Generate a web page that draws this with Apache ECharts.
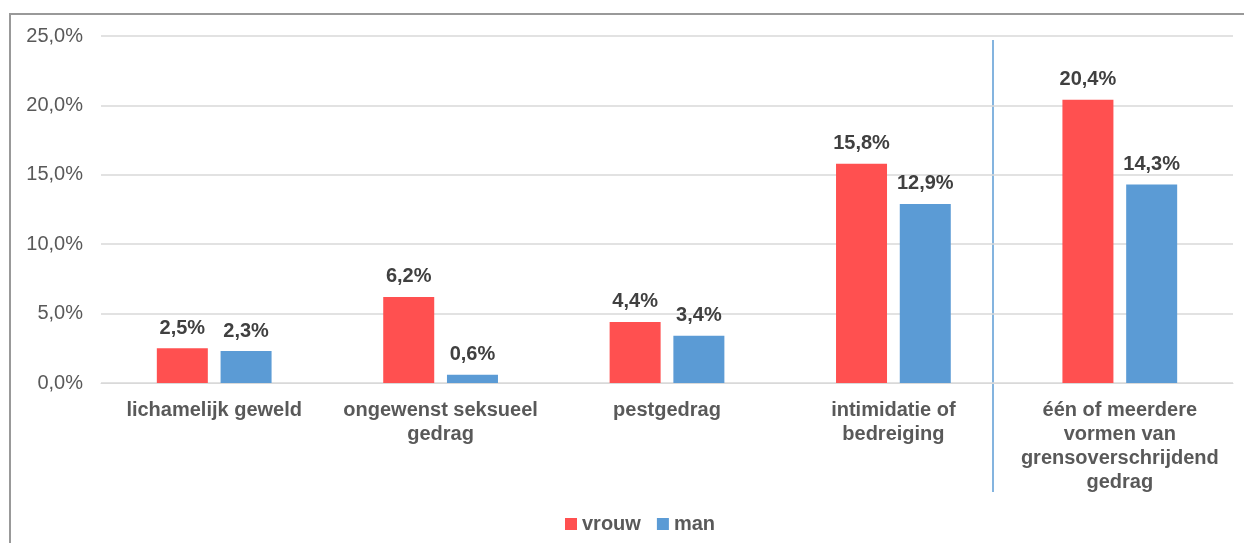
<!DOCTYPE html>
<html>
<head>
<meta charset="utf-8">
<script src="https://cdn.jsdelivr.net/npm/echarts@6/dist/echarts.min.js"></script>
<style>
  html, body { margin: 0; padding: 0; background: #fff; }
  #chart { width: 1244px; height: 543px; }
</style>
</head>
<body>
<div id="chart"></div>
<script>
// categorieën (tick labels, met regeleinden zoals in het origineel)
const categories = [
    'lichamelijk geweld',
    'ongewenst seksueel\ngedrag',
    'pestgedrag',
    'intimidatie of\nbedreiging',
    'één of meerdere\nvormen van\ngrensoverschrijdend\ngedrag'
];
const vrouw = [2.5, 6.2, 4.4, 15.8, 20.4];
const man = [2.3, 0.6, 3.4, 12.9, 14.3];
const yTicks = [0, 5, 10, 15, 20, 25];

const pct = v => v.toFixed(1).replace('.', ',') + '%';

const chart = echarts.init(document.getElementById('chart'));

const labelStyle = {
    show: true,
    position: 'top',
    distance: 10,
    formatter: p => pct(p.value),
    color: '#404040',
    fontWeight: 'bold',
    fontSize: 20,
    fontFamily: 'Liberation Sans, Arial, sans-serif'
};

chart.setOption({
    animation: false,
    textStyle: { fontFamily: 'Liberation Sans, Arial, sans-serif' },
    grid: { left: 101, right: 11, top: 36, bottom: 160 },
    legend: {
        bottom: 4,
        left: 560,
        icon: 'rect',
        itemWidth: 12,
        itemHeight: 12,
        itemGap: 16,
        textStyle: { color: '#595959', fontSize: 20, fontWeight: 'bold' },
        data: ['vrouw', 'man']
    },
    xAxis: {
        type: 'category',
        data: categories,
        axisLine: { lineStyle: { color: '#D9D9D9', width: 1 } },
        axisTick: { show: false },
        axisLabel: {
            color: '#595959',
            fontSize: 20,
            fontWeight: 'bold',
            lineHeight: 24,
            margin: 15,
            interval: 0
        }
    },
    yAxis: {
        type: 'value',
        min: yTicks[0],
        max: yTicks[yTicks.length - 1],
        interval: 5,
        axisLine: { show: false },
        axisTick: { show: false },
        splitLine: { lineStyle: { color: '#D9D9D9', width: 1.5 } },
        axisLabel: {
            color: '#595959',
            fontSize: 20,
            margin: 18,
            formatter: v => pct(v)
        }
    },
    series: [
        {
            name: 'vrouw',
            type: 'bar',
            data: vrouw,
            barWidth: 51,
            barGap: '25%',
            itemStyle: { color: '#FF5050' },
            label: labelStyle
        },
        {
            name: 'man',
            type: 'bar',
            data: man,
            barWidth: 51,
            itemStyle: { color: '#5B9BD5' },
            label: labelStyle
        }
    ],
    graphic: [
        // kader rond de grafiek
        {
            type: 'rect',
            shape: { x: 10, y: 14, width: 1260, height: 560 },
            style: { fill: null, stroke: '#999999', lineWidth: 2 },
            silent: true
        },
        // scheidingslijn voor de laatste categorie
        {
            type: 'line',
            shape: { x1: 993, y1: 40, x2: 993, y2: 492 },
            style: { stroke: '#5B9BD5', lineWidth: 1.5 },
            silent: true
        }
    ]
});

window.onresize = function () {
    chart.resize();
};
</script>
</body>
</html>
